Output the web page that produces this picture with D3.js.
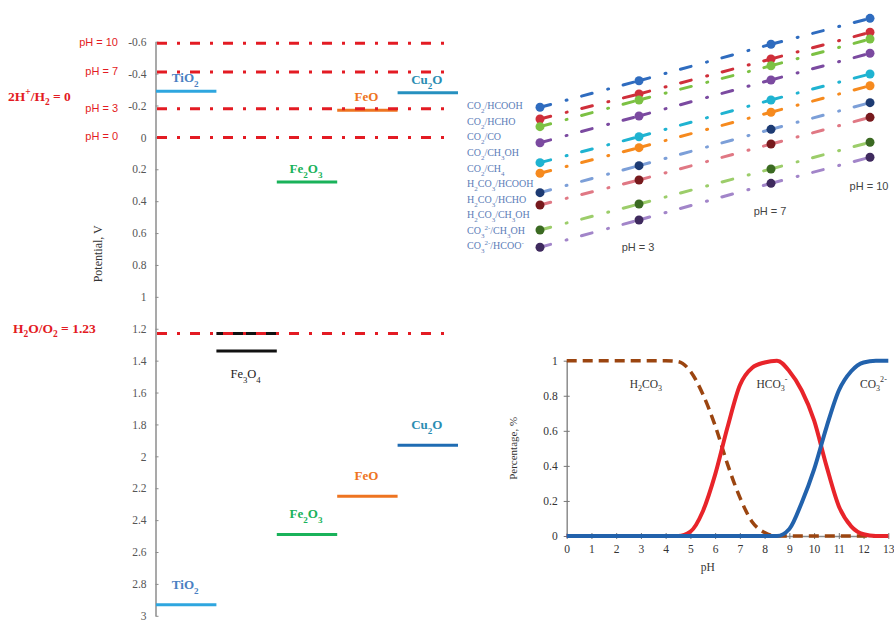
<!DOCTYPE html>
<html>
<head>
<meta charset="utf-8">
<script src="https://cdn.jsdelivr.net/npm/d3@7"></script>
<style>
  body { margin: 0; background: #fff; }
  svg { display: block; }
</style>
</head>
<body>
<svg id="chart"></svg>
<script>
// ---- band-edge diagram (left)
const materials = ["TiO_2", "Fe_3O_4", "Fe_2O_3", "FeO", "Cu_2O"];
const cbEdge = [-0.29, 1.23, 0.28, -0.17, -0.28];
const vbEdge = [2.93, 1.34, 2.49, 2.25, 1.93];
const potentialTicks = [-0.6, -0.4, -0.2, 0, 0.2, 0.4, 0.6, 0.8, 1, 1.2, 1.4, 1.6, 1.8, 2, 2.2, 2.4, 2.6, 2.8, 3];
const refLabels = ["pH = 10", "pH = 7", "pH = 3", "pH = 0"];
const refPotentials = [-0.59, -0.41, -0.18, 0];
const waterOx = 1.23;

// ---- CO2 reduction potentials vs pH (top right)
const reactions = ["CO_2/HCOOH", "CO_2/HCHO", "CO_2/CO", "CO_2/CH_3OH", "CO_2/CH_4",
  "H_2CO_3/HCOOH", "H_2CO_3/HCHO", "H_2CO_3/CH_3OH", "CO_3^2-/CH_3OH", "CO_3^2-/HCOO^-"];
const phMarks = [0, 3, 7, 10];
const redox = [
  [-0.19, -0.367, -0.61, -0.783],
  [-0.112, -0.279, -0.512, -0.69],
  [-0.061, -0.239, -0.467, -0.645],
  [0.046, -0.132, -0.372, -0.55],
  [0.179, 0.006, -0.239, -0.412],
  [0.25, 0.079, -0.157, -0.334],
  [0.379, 0.199, -0.043, -0.221],
  [0.461, 0.295, 0.055, -0.123],
  [0.628, 0.455, 0.221, 0.043],
  [0.743, 0.561, 0.317, 0.143]
];
const phLabels = ["pH = 3", "pH = 7", "pH = 10"];
const phLabelAt = [3, 7, 10];

// ---- carbonate speciation (bottom right)
const phGrid = [0, 1, 2, 3, 4, 4.5, 5, 5.5, 6, 6.5, 7, 7.5, 8, 8.5, 9, 9.5, 10, 10.5, 11, 11.5, 12, 12.5, 13];
const h2co3 = [1, 1, 1, 1, 1, 0.995, 0.94, 0.81, 0.63, 0.41, 0.22, 0.08, 0.02, 0, 0, 0, 0, 0, 0, 0, 0, 0, 0];
const hco3 = [0, 0, 0, 0, 0, 0, 0.025, 0.14, 0.35, 0.62, 0.86, 0.96, 0.99, 1, 0.94, 0.83, 0.66, 0.4, 0.17, 0.055, 0.01, 0, 0];
const co3 = [0, 0, 0, 0, 0, 0, 0, 0, 0, 0, 0, 0, 0, 0, 0.04, 0.19, 0.38, 0.62, 0.83, 0.94, 0.99, 1, 1];
const species = ["H_2CO_3", "HCO_3^-", "CO_3^2-"];
const speciesAt = [3.2, 8.3, 12.4];
const pctTicks = [0, 0.2, 0.4, 0.6, 0.8, 1];
const phTicks = d3.range(0, 14);

const svg = d3.select("#chart").attr("width", 894).attr("height", 625);
const red = "#e31b23";
const serif = "'Liberation Serif', 'DejaVu Serif', serif";
const sans = "'Liberation Sans', Arial, sans-serif";

// text with _sub and ^sup parts
function rich(text, str) {
  str.split(/(_\d+|\^\d*[+-])/).filter(s => s).forEach(s => {
    if (s[0] === "_") text.append("tspan").attr("baseline-shift", "sub").attr("font-size", "70%").text(s.slice(1));
    else if (s[0] === "^") text.append("tspan").attr("baseline-shift", "super").attr("font-size", "70%").text(s.slice(1));
    else text.append("tspan").text(s);
  });
  return text;
}

// ================= left =================
const yL = d3.scaleLinear().domain([-0.6, 3]).range([41.7, 615.8]);
const xL = d3.scaleBand().domain(materials).range([155, 457]);
const matColor = { "TiO_2": "#2ea6df", "Fe_3O_4": "#111", "Fe_2O_3": "#19b25a", "FeO": "#ee7420", "Cu_2O": "#2690bf" };
const vbColor = { "TiO_2": "#2ea6df", "Fe_3O_4": "#111", "Fe_2O_3": "#19b25a", "FeO": "#ee7420", "Cu_2O": "#1f6cb3" };
const labColor = { "TiO_2": "#4a7fc2", "Fe_3O_4": "#222", "Fe_2O_3": "#19b25a", "FeO": "#ee7420", "Cu_2O": "#2a8db2" };

const axL = svg.append("g")
  .attr("transform", "translate(155.5,0)")
  .call(d3.axisLeft(yL).tickValues(potentialTicks).tickFormat(d => String(d))
    .tickSizeInner(-3).tickSizeOuter(0).tickPadding(9));
axL.select(".domain").attr("stroke", "#8c8c8c").attr("stroke-width", 1.5);
axL.selectAll(".tick line").attr("stroke", "#8c8c8c");
axL.selectAll(".tick text").attr("fill", "#555").attr("font-family", serif).attr("font-size", 11.5);

svg.append("text")
  .attr("transform", `translate(99,${yL(0.73)}) rotate(-90)`)
  .attr("text-anchor", "middle").attr("dominant-baseline", "middle")
  .attr("font-family", serif).attr("font-size", 12).attr("fill", "#333")
  .text("Potential,  V");

// band lines
materials.forEach((m, i) => {
  const x0 = xL(m) + 1, x1 = xL(m) + xL.bandwidth() + 1;
  svg.append("line").attr("x1", x0).attr("x2", x1).attr("y1", yL(cbEdge[i])).attr("y2", yL(cbEdge[i]))
    .attr("stroke", matColor[m]).attr("stroke-width", 3);
  svg.append("line").attr("x1", x0).attr("x2", x1).attr("y1", yL(vbEdge[i])).attr("y2", yL(vbEdge[i]))
    .attr("stroke", vbColor[m]).attr("stroke-width", 3);
  const cx = xL(m) + xL.bandwidth() / 2;
  if (m === "Fe_3O_4") {
    rich(svg.append("text").attr("x", cx).attr("y", yL(vbEdge[i]) + 27).attr("text-anchor", "middle")
      .attr("font-family", serif).attr("font-size", 12.5).attr("fill", labColor[m]), m);
  } else {
    rich(svg.append("text").attr("x", cx).attr("y", yL(cbEdge[i]) - 9).attr("text-anchor", "middle")
      .attr("font-family", serif).attr("font-weight", "bold").attr("font-size", 13).attr("fill", labColor[m]), m);
    rich(svg.append("text").attr("x", cx).attr("y", yL(vbEdge[i]) - 16).attr("text-anchor", "middle")
      .attr("font-family", serif).attr("font-weight", "bold").attr("font-size", 13).attr("fill", labColor[m]), m);
  }
});

// reference lines
refPotentials.concat([waterOx]).forEach(v => {
  svg.append("line").attr("x1", 157).attr("x2", 450).attr("y1", yL(v)).attr("y2", yL(v))
    .attr("stroke", red).attr("stroke-width", 3).attr("stroke-dasharray", "10,10,3,10");
});
refLabels.forEach((t, i) => {
  svg.append("text").attr("x", 118).attr("y", yL(refPotentials[i]))
    .attr("text-anchor", "end").attr("dominant-baseline", "middle")
    .attr("font-family", sans).attr("font-size", 11).attr("fill", red).text(t);
});
rich(svg.append("text").attr("x", 8).attr("y", yL(-0.25)).attr("dominant-baseline", "middle")
  .attr("font-family", serif).attr("font-weight", "bold").attr("font-size", 13.5).attr("fill", red), "2H^+/H_2 = 0");
rich(svg.append("text").attr("x", 13).attr("y", yL(waterOx) - 4).attr("dominant-baseline", "middle")
  .attr("font-family", serif).attr("font-weight", "bold").attr("font-size", 13.5).attr("fill", red), "H_2O/O_2 = 1.23");

// ================= top right =================
const xR = d3.scaleLinear().domain([0, 10]).range([540, 870]);
const yR = d3.scaleLinear().domain([-0.8, 0.8]).range([15.8, 255.8]);
const dotColors = ["#2f6cbf", "#cf2f3a", "#7cc143", "#7b4aa0", "#1fb3d1", "#f68a1e", "#1d3b73", "#771a1d", "#3b6a22", "#3f2a5e"];
const lineColors = ["#2f6cbf", "#cf2f3a", "#7cc143", "#7b4aa0", "#1fb3d1", "#f68a1e", "#7c9fd8", "#e07884", "#9ccd6a", "#a285c9"];

redox.forEach((vals, s) => {
  const g = svg.append("g");
  for (let k = 0; k < phMarks.length - 1; k++) {
    g.append("line")
      .attr("x1", xR(phMarks[k])).attr("y1", yR(vals[k]))
      .attr("x2", xR(phMarks[k + 1])).attr("y2", yR(vals[k + 1]))
      .attr("stroke", lineColors[s]).attr("stroke-width", 3)
      .attr("stroke-linecap", "round").attr("stroke-dasharray", "11,16,1,15");
  }
  g.selectAll("circle").data(vals).join("circle")
    .attr("cx", (d, k) => xR(phMarks[k])).attr("cy", d => yR(d)).attr("r", 4.5)
    .attr("fill", dotColors[s]);
});
reactions.forEach((r, i) => {
  rich(svg.append("text").attr("x", 467).attr("y", 107.3 + i * 15.55).attr("dominant-baseline", "middle")
    .attr("font-family", serif).attr("font-size", 10).attr("fill", "#5b7db8"), r);
});
const phLabelY = [248, 212, 187];
phLabels.forEach((t, i) => {
  svg.append("text").attr("x", xR(phLabelAt[i]) - 1).attr("y", phLabelY[i])
    .attr("text-anchor", "middle").attr("dominant-baseline", "middle")
    .attr("font-family", sans).attr("font-size", 11).attr("fill", "#444").text(t);
});

// ================= bottom right =================
const xP = d3.scaleLinear().domain([0, 13]).range([566.7, 888.3]);
const yP = d3.scaleLinear().domain([0, 1]).range([536, 360.7]);

const axX = svg.append("g").attr("transform", `translate(0,${yP(0)})`)
  .call(d3.axisBottom(xP).tickValues(phTicks).tickFormat(d => String(d)).tickSizeOuter(0).tickSizeInner(3).tickPadding(6));
axX.selectAll(".tick line").attr("y1", -3).attr("y2", 3);
const axY = svg.append("g").attr("transform", `translate(${xP(0)},0)`)
  .call(d3.axisLeft(yP).tickValues(pctTicks).tickFormat(d => String(d)).tickSizeOuter(0).tickSizeInner(3).tickPadding(6));
axY.selectAll(".tick line").attr("x1", -3).attr("x2", 3);
[axX, axY].forEach(a => {
  a.select(".domain").attr("stroke", "#8c8c8c").attr("stroke-width", 1.5);
  a.selectAll(".tick line").attr("stroke", "#777");
  a.selectAll(".tick text").attr("fill", "#333").attr("font-family", serif).attr("font-size", 11.5);
});
svg.append("text").attr("x", xP(5.7)).attr("y", 571).attr("text-anchor", "middle")
  .attr("font-family", serif).attr("font-size", 11.5).attr("fill", "#333").text("pH");
svg.append("text").attr("transform", `translate(514,${yP(0.5)}) rotate(-90)`)
  .attr("text-anchor", "middle").attr("dominant-baseline", "middle")
  .attr("font-family", serif).attr("font-size", 11).attr("fill", "#333").text("Percentage, %");

const line = vals => d3.line().x((d, i) => xP(phGrid[i])).y(d => yP(d)).curve(d3.curveMonotoneX)(vals);
svg.append("path").attr("d", line(h2co3)).attr("fill", "none")
  .attr("stroke", "#9b4510").attr("stroke-width", 3.5).attr("stroke-dasharray", "10,6");
svg.append("path").attr("d", line(hco3)).attr("fill", "none")
  .attr("stroke", "#e8242a").attr("stroke-width", 4);
svg.append("path").attr("d", line(co3)).attr("fill", "none")
  .attr("stroke", "#2262ac").attr("stroke-width", 4);

species.forEach((s, i) => {
  rich(svg.append("text").attr("x", xP(speciesAt[i])).attr("y", yP(0.86)).attr("text-anchor", "middle")
    .attr("dominant-baseline", "middle")
    .attr("font-family", serif).attr("font-size", 11.5).attr("fill", "#333"), s);
});
</script>
</body>
</html>
